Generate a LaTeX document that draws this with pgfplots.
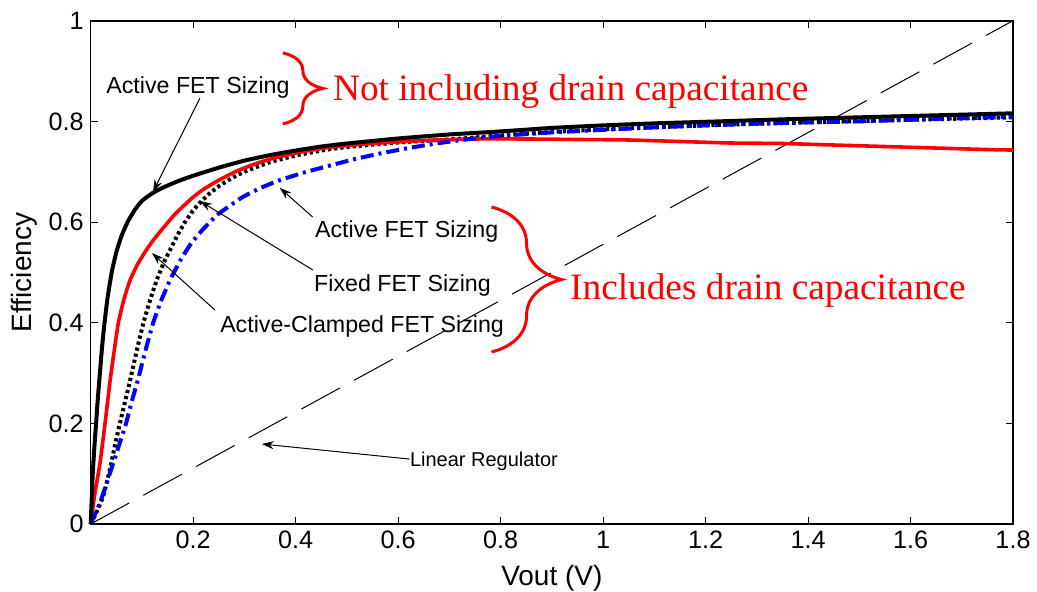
\documentclass[border=0pt]{standalone}
\usepackage{fontspec}
\setmainfont{Liberation Sans}
\newfontfamily\timesfont{Liberation Serif}
\usepackage{pgfplots}
\pgfplotsset{compat=1.18}
\usetikzlibrary{arrows.meta,decorations.pathreplacing}
\definecolor{mred}{RGB}{255,0,0}
\definecolor{mblue}{RGB}{0,0,255}
\begin{document}
\begin{tikzpicture}
\useasboundingbox (-45.35pt,-33.5pt) rectangle (473.15pt,262pt);
\begin{axis}[
  at={(0,0)}, anchor=south west,
  scale only axis, width=461.15pt, height=251.65pt,
  xmin=0, xmax=1.8, ymin=0, ymax=1,
  xtick={0.2,0.4,0.6,0.8,1,1.2,1.4,1.6,1.8},
  ytick={0,0.2,0.4,0.6,0.8,1},
  tick align=inside,
  major tick length=3.5pt,
  every tick/.style={black, line width=0.5pt},
  axis line style={line width=0.8pt},
  /pgf/number format/assume math mode=true,
  tick label style={font=\fontsize{12.6}{14}\selectfont},
  xlabel={Vout (V)}, ylabel={Efficiency},
  label style={font=\fontsize{14}{16}\selectfont},
  xlabel style={at={(axis description cs:0.5,-0.1212)}, anchor=base},
  ylabel style={at={(axis description cs:-0.0638,0.5)}, anchor=base, rotate=0},
  clip=false,
]
% Linear regulator
\addplot[black, line width=0.5pt, dash pattern=on 22pt off 8pt] coordinates {(0,0) (1.8,1)};
% Fixed FET sizing (dotted)
\addplot[black, line width=2pt, dash pattern=on 1.6pt off 1.5pt, smooth, tension=0.3] coordinates {
(0,0) (0.012,0.025) (0.024,0.054) (0.032,0.085) (0.040,0.12) (0.048,0.16) (0.057,0.2)
(0.067,0.243) (0.077,0.286) (0.090,0.345) (0.103,0.4) (0.116,0.445) (0.129,0.485)
(0.143,0.52) (0.158,0.551) (0.171,0.577) (0.184,0.6) (0.197,0.619) (0.210,0.635)
(0.230,0.655) (0.250,0.671) (0.275,0.687) (0.300,0.700) (0.350,0.719) (0.400,0.732)
(0.450,0.742) (0.500,0.749) (0.600,0.758) (0.700,0.764) (0.800,0.772) (0.900,0.779)
(1.000,0.784) (1.200,0.792) (1.400,0.798) (1.600,0.803) (1.800,0.808)};
% Active-clamped (red)
\addplot[mred, line width=1.8pt, smooth, tension=0.3] coordinates {
(0,0) (0.008,0.06) (0.018,0.12) (0.028,0.2) (0.038,0.286) (0.046,0.345) (0.054,0.40)
(0.065,0.447) (0.077,0.485) (0.092,0.517) (0.109,0.545) (0.123,0.565) (0.138,0.584)
(0.164,0.615) (0.197,0.647) (0.220,0.665) (0.248,0.682) (0.280,0.699) (0.314,0.713)
(0.350,0.725) (0.400,0.737) (0.450,0.746) (0.500,0.752) (0.564,0.757) (0.650,0.762)
(0.750,0.765) (0.850,0.765) (0.950,0.764) (1.050,0.763) (1.150,0.760) (1.250,0.757)
(1.350,0.756) (1.450,0.753) (1.550,0.750) (1.650,0.747) (1.750,0.744) (1.800,0.743)};
% Active FET sizing with drain cap (blue dash-dot)
\addplot[mblue, line width=2pt, dash pattern=on 6.5pt off 2.5pt on 1.5pt off 2.5pt, smooth, tension=0.3] coordinates {
(0,0) (0.018,0.042) (0.033,0.087) (0.047,0.13) (0.058,0.165) (0.069,0.2) (0.080,0.243)
(0.092,0.286) (0.107,0.345) (0.122,0.4) (0.138,0.445) (0.155,0.485) (0.175,0.524)
(0.195,0.556) (0.216,0.582) (0.248,0.615) (0.294,0.648) (0.330,0.667) (0.366,0.682)
(0.415,0.698) (0.466,0.712) (0.515,0.725) (0.564,0.736) (0.620,0.747) (0.681,0.757)
(0.740,0.765) (0.798,0.771) (0.900,0.778) (1.018,0.784) (1.120,0.789) (1.227,0.793)
(1.350,0.797) (1.500,0.800) (1.650,0.805) (1.800,0.809)};
% Active FET sizing, no drain cap (black solid)
\addplot[black, line width=2pt, smooth, tension=0.3] coordinates {
(0,0) (0.002,0.05) (0.004,0.10) (0.007,0.15) (0.0105,0.20) (0.014,0.25) (0.018,0.30)
(0.022,0.35) (0.027,0.40) (0.033,0.45) (0.041,0.50) (0.050,0.54) (0.060,0.572)
(0.072,0.600) (0.086,0.624) (0.100,0.642) (0.120,0.657) (0.140,0.668) (0.170,0.681)
(0.200,0.692) (0.250,0.708) (0.300,0.722) (0.350,0.733) (0.400,0.742) (0.450,0.750)
(0.500,0.756) (0.600,0.766) (0.700,0.774) (0.800,0.780) (0.900,0.787) (1.000,0.792)
(1.100,0.796) (1.227,0.800) (1.350,0.804) (1.500,0.808) (1.650,0.812) (1.800,0.816)};

% annotations
\tikzset{ann/.style={font=\fontsize{11.6}{13}\selectfont, inner sep=0pt, anchor=base west},
         arr/.style={-{Stealth[length=6pt,width=4pt]}, line width=0.5pt, black}}
\node[ann, anchor=base] at (axis cs:0.2093,0.856) {Active FET Sizing};
\draw[arr] (axis cs:0.2131,0.846) -- (axis cs:0.1215,0.660);
\node[ann] at (axis cs:0.4372,0.5683) {Active FET Sizing};
\draw[arr] (axis cs:0.433,0.610) -- (axis cs:0.369,0.668);
\node[ann] at (axis cs:0.4354,0.461) {Fixed FET Sizing};
\draw[arr] (axis cs:0.4336,0.5047) -- (axis cs:0.2131,0.6418);
\node[ann] at (axis cs:0.2521,0.3815) {Active-Clamped FET Sizing};
\draw[arr] (axis cs:0.2424,0.4252) -- (axis cs:0.1195,0.5384);
\node[ann, font=\fontsize{10}{12}\selectfont] at (axis cs:0.6225,0.1133) {Linear Regulator};
\draw[arr] (axis cs:0.6225,0.129) -- (axis cs:0.3339,0.159);

\draw[mred, line width=1.5pt, decorate, decoration={brace, amplitude=20pt}] (axis cs:0.375,0.936) -- (axis cs:0.375,0.795);
\draw[mred, line width=1.5pt, decorate, decoration={brace, amplitude=35pt}] (axis cs:0.7823,0.6298) -- (axis cs:0.7823,0.3417);
\node[inner sep=0pt, anchor=base west, text=mred, font=\timesfont\fontsize{18.65}{20}\selectfont] at (axis cs:0.4723,0.8424) {Not including drain capacitance};
\node[inner sep=0pt, anchor=base west, text=mred, font=\timesfont\fontsize{18.65}{20}\selectfont] at (axis cs:0.935,0.447) {Includes drain capacitance};
\end{axis}
\end{tikzpicture}
\end{document}
